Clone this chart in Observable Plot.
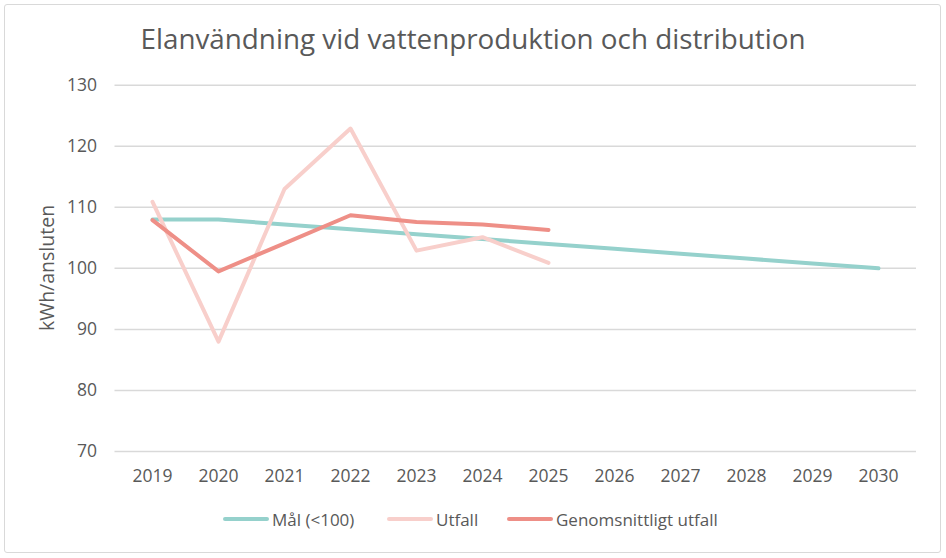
<!DOCTYPE html>
<html>
<head>
<meta charset="utf-8">
<script src="https://cdn.jsdelivr.net/npm/d3@7"></script>
<script src="https://cdn.jsdelivr.net/npm/@observablehq/plot@0.6"></script>
<style>
  html, body { margin: 0; padding: 0; background: #fff; }
  body { width: 946px; height: 558px; position: relative; overflow: hidden; font-family: "Open Sans", "Noto Sans", sans-serif; color: #595959; }
  #frame { position: absolute; left: 4px; top: 4px; width: 935px; height: 547px; border: 1px solid #d9d9d9; border-radius: 3px; }
  #title { position: absolute; left: 0; top: 20px; width: 946px; text-align: center; font-size: 27.8px; line-height: 36px; color: #595959; }
  #chart { position: absolute; left: 0; top: 64px; }
  #ylabel { position: absolute; left: 45.5px; top: 268px; transform: translate(-50%, -50%) rotate(-90deg); font-size: 19.5px; white-space: nowrap; color: #595959; }
  #legend { position: absolute; top: 508px; left: 0; width: 946px; height: 22px; font-size: 17px; }
  .item { position: absolute; top: 0; display: flex; align-items: center; height: 22px; white-space: nowrap; }
  .sw { width: 46px; height: 4px; border-radius: 2px; margin-right: 3px; }
</style>
</head>
<body>
<div id="frame"></div>
<div id="title">Elanvändning vid vattenproduktion och distribution</div>
<div id="chart"></div>
<div id="ylabel">kWh/ansluten</div>
<div id="legend"></div>
<script>
const years = ["2019","2020","2021","2022","2023","2024","2025","2026","2027","2028","2029","2030"];
const malValues = [108, 108, 107.2, 106.4, 105.6, 104.8, 104, 103.2, 102.4, 101.6, 100.8, 100];
const utfallYears = ["2019","2020","2021","2022","2023","2024","2025"];
const utfallValues = [110.9, 88.0, 113.0, 122.9, 102.9, 105.1, 100.9];
const snittValues = [107.9, 99.5, 104.1, 108.7, 107.6, 107.2, 106.3];
const yTicks = [70, 80, 90, 100, 110, 120, 130];
const seriesNames = ["Mål (<100)", "Utfall", "Genomsnittligt utfall"];
const seriesColors = ["#95d1cc", "#f8cfcb", "#ee8f87"];

const mal = years.map((y, i) => ({year: y, value: malValues[i]}));
const utfall = utfallYears.map((y, i) => ({year: y, value: utfallValues[i]}));
const snitt = utfallYears.map((y, i) => ({year: y, value: snittValues[i]}));

const chart = Plot.plot({
  width: 946,
  height: 430,
  marginLeft: 114.5,
  marginRight: 30,
  marginTop: 20.7,
  marginBottom: 43,
  style: {fontFamily: '"Open Sans", "Noto Sans", sans-serif', fontSize: "17.5px", color: "#595959", background: "transparent"},
  x: {type: "point", domain: years, padding: 0.5, label: null},
  y: {domain: [70, 130], label: null},
  marks: [
    Plot.gridY(yTicks, {stroke: "#d9d9d9", strokeOpacity: 1, strokeWidth: 1.5}),
    Plot.axisY(yTicks, {tickSize: 0, tickPadding: 18, label: null, fill: "#595959"}),
    Plot.axisX(years, {tickSize: 0, tickPadding: 18, label: null, fill: "#595959"}),
    Plot.line(mal, {x: "year", y: "value", stroke: seriesColors[0], strokeWidth: 4, strokeLinecap: "round", strokeLinejoin: "round"}),
    Plot.line(utfall, {x: "year", y: "value", stroke: seriesColors[1], strokeWidth: 4, strokeLinecap: "round", strokeLinejoin: "round"}),
    Plot.line(snitt, {x: "year", y: "value", stroke: seriesColors[2], strokeWidth: 4, strokeLinecap: "round", strokeLinejoin: "round"})
  ]
});
document.getElementById("chart").appendChild(chart);

const legendLefts = [223, 387, 507];
const legend = document.getElementById("legend");
seriesNames.forEach((name, i) => {
  const item = document.createElement("div");
  item.className = "item";
  item.style.left = legendLefts[i] + "px";
  const sw = document.createElement("div");
  sw.className = "sw";
  sw.style.background = seriesColors[i];
  const t = document.createElement("span");
  t.textContent = name;
  item.appendChild(sw);
  item.appendChild(t);
  legend.appendChild(item);
});
</script>
</body>
</html>
